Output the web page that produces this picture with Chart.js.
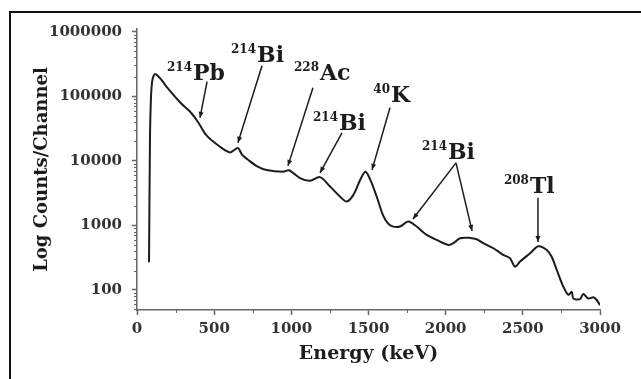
<!DOCTYPE html>
<html>
<head>
<meta charset="utf-8">
<script src="https://cdn.jsdelivr.net/npm/chart.js@4.4.0/dist/chart.umd.min.js"></script>
<style>
    html, body { margin: 0; padding: 0; background: #fff; }
    #wrap { position: relative; width: 641px; height: 379px; overflow: hidden; }
    #frame {
        position: absolute; left: 9px; top: 11px; width: 700px; height: 400px;
        border-top: 2px solid #111; border-left: 2px solid #111; pointer-events: none;
    }
</style>
</head>
<body>
<div id="wrap">
    <canvas id="spectrum" width="641" height="379"></canvas>
    <div id="frame"></div>
</div>
<script>
// ---- Data ----
const energies = [78, 84, 90, 98, 108, 118, 132, 160, 192, 285, 343, 395, 452, 538, 603, 654, 680, 719,
    776, 840, 948, 985, 1056, 1121, 1186, 1251, 1315, 1359, 1402, 1445, 1480, 1510, 1553, 1596, 1630,
    1661, 1704, 1758, 1812, 1877, 1942, 2017, 2050, 2093, 2158, 2201, 2244, 2309, 2373, 2417, 2449,
    2482, 2547, 2600, 2655, 2687, 2720, 2762, 2795, 2817, 2827, 2870, 2892, 2924, 2957, 2979, 3000];
const counts = [270, 21000, 88000, 168000, 208000, 222000, 210000, 178000, 140000, 78000, 58000, 40000,
    24500, 16500, 13500, 15800, 12500, 10400, 8300, 7200, 6800, 7150, 5400, 4900, 5600, 4000, 2800, 2340,
    2970, 5000, 6750, 5200, 2800, 1400, 1050, 957, 960, 1150, 960, 713, 596, 499, 530, 634, 640, 611, 530,
    443, 349, 310, 230, 275, 371, 475, 417, 328, 204, 113, 84, 94, 74, 72, 87, 74, 77, 70, 58];

const xTickValues = [0, 500, 1000, 1500, 2000, 2500, 3000];
const yTickValues = [100, 1000, 10000, 100000, 1000000];

// peak labels (anchor = join of mass number and symbol, on the symbol baseline)
const labelMass = ['214', '214', '228', '214', '40', '214', '208'];
const labelSym = ['Pb', 'Bi', 'Ac', 'Bi', 'K', 'Bi', 'Tl'];
const labelE = [363, 778, 1186, 1309, 1646, 2015, 2546];
const labelCount = [180000, 343000, 180000, 30300, 82200, 10700, 3190];

// arrows: tail -> tip, in data units
const arrowTailE = [454, 810, 1140, 1328, 1639, 2067, 2067, 2598];
const arrowTailCount = [168000, 297000, 135000, 27200, 66400, 9310, 9310, 2670];
const arrowTipE = [408, 654, 978, 1186, 1523, 1788, 2171, 2598];
const arrowTipCount = [46400, 19000, 8360, 6510, 7250, 1260, 822, 555];

const serif = '"DejaVu Serif", serif';
const ink = '#1c1c1c';
const axisGrey = '#666';

// minor tick marks (log decades 2..9 and half-steps on energy)
const minorTicks = {
    id: 'minorTicks',
    afterDraw(chart) {
        const ctx = chart.ctx;
        const xs = chart.scales.x;
        const ys = chart.scales.y;
        ctx.save();
        ctx.strokeStyle = axisGrey;
        ctx.lineWidth = 1;
        ctx.beginPath();
        for (let d = 10; d <= 100000; d *= 10) {
            for (let m = 2; m <= 9; m++) {
                const v = d * m;
                if (v < ys.min || v > ys.max) continue;
                const py = Math.round(ys.getPixelForValue(v)) + 0.5;
                ctx.moveTo(xs.left - 3, py);
                ctx.lineTo(xs.left, py);
            }
        }
        for (let v = 250; v < 3000; v += 500) {
            const px = Math.round(xs.getPixelForValue(v)) + 0.5;
            ctx.moveTo(px, ys.bottom);
            ctx.lineTo(px, ys.bottom + 3);
        }
        ctx.stroke();
        ctx.restore();
    }
};

// isotope labels and arrows
const peakLabels = {
    id: 'peakLabels',
    afterDatasetsDraw(chart) {
        const ctx = chart.ctx;
        const xs = chart.scales.x;
        const ys = chart.scales.y;
        ctx.save();
        ctx.fillStyle = ink;
        ctx.strokeStyle = ink;
        ctx.textBaseline = 'alphabetic';
        for (let i = 0; i < labelSym.length; i++) {
            const x = xs.getPixelForValue(labelE[i]);
            const y = ys.getPixelForValue(labelCount[i]);
            ctx.font = 'bold 22px ' + serif;
            ctx.textAlign = 'left';
            ctx.fillText(labelSym[i], x, y);
            ctx.font = 'bold 12px ' + serif;
            ctx.textAlign = 'right';
            ctx.fillText(labelMass[i], x - 1, y - 9);
        }
        ctx.lineWidth = 1.5;
        for (let i = 0; i < arrowTipE.length; i++) {
            const x0 = xs.getPixelForValue(arrowTailE[i]);
            const y0 = ys.getPixelForValue(arrowTailCount[i]);
            const x1 = xs.getPixelForValue(arrowTipE[i]);
            const y1 = ys.getPixelForValue(arrowTipCount[i]);
            const a = Math.atan2(y1 - y0, x1 - x0);
            ctx.beginPath();
            ctx.moveTo(x0, y0);
            ctx.lineTo(x1, y1);
            ctx.stroke();
            ctx.beginPath();
            ctx.moveTo(x1, y1);
            ctx.lineTo(x1 - 6 * Math.cos(a) + 2.5 * Math.sin(a), y1 - 6 * Math.sin(a) - 2.5 * Math.cos(a));
            ctx.lineTo(x1 - 6 * Math.cos(a) - 2.5 * Math.sin(a), y1 - 6 * Math.sin(a) + 2.5 * Math.cos(a));
            ctx.closePath();
            ctx.fill();
        }
        ctx.restore();
    }
};

const ctxSpec = document.getElementById('spectrum').getContext('2d');
new Chart(ctxSpec, {
    type: 'line',
    data: {
        datasets: [{
            data: energies.map((e, i) => ({ x: e, y: counts[i] })),
            borderColor: ink,
            borderWidth: 2,
            pointRadius: 0,
            tension: 0.3,
            fill: false
        }]
    },
    options: {
        responsive: false,
        animation: false,
        layout: { padding: { left: 0, right: 41, top: 29, bottom: 0 } },
        plugins: {
            legend: { display: false },
            tooltip: { enabled: false }
        },
        scales: {
            x: {
                type: 'linear',
                min: 0,
                max: 3000,
                afterFit: function (scale) { scale.height = 69; },
                afterBuildTicks: function (scale) {
                    scale.ticks = xTickValues.map(v => ({ value: v }));
                },
                ticks: {
                    maxRotation: 0,
                    padding: 5,
                    color: '#333',
                    font: { family: serif, size: 15, weight: 'bold' },
                    callback: v => String(v)
                },
                grid: {
                    drawOnChartArea: false,
                    tickLength: 5,
                    tickColor: axisGrey,
                    tickWidth: 1.5
                },
                border: { display: true, color: axisGrey, width: 1.5 },
                title: {
                    display: true,
                    text: 'Energy (keV)',
                    color: ink,
                    font: { family: serif, size: 19, weight: 'bold' },
                    padding: { top: 0, bottom: 14 }
                }
            },
            y: {
                type: 'logarithmic',
                min: 49,
                max: 1100000,
                afterFit: function (scale) { scale.width = 137; },
                afterBuildTicks: function (scale) {
                    scale.ticks = yTickValues.map(v => ({ value: v }));
                },
                ticks: {
                    padding: 10,
                    color: '#333',
                    font: { family: serif, size: 15, weight: 'bold' },
                    callback: v => String(v)
                },
                grid: {
                    drawOnChartArea: false,
                    tickLength: 5,
                    tickColor: axisGrey,
                    tickWidth: 1.5
                },
                border: { display: true, color: axisGrey, width: 1.5 },
                title: {
                    display: true,
                    text: 'Log Counts/Channel',
                    color: ink,
                    font: { family: serif, size: 18, weight: 'bold' },
                    padding: { top: 32, bottom: 0 }
                }
            }
        }
    },
    plugins: [minorTicks, peakLabels]
});
</script>
</body>
</html>
